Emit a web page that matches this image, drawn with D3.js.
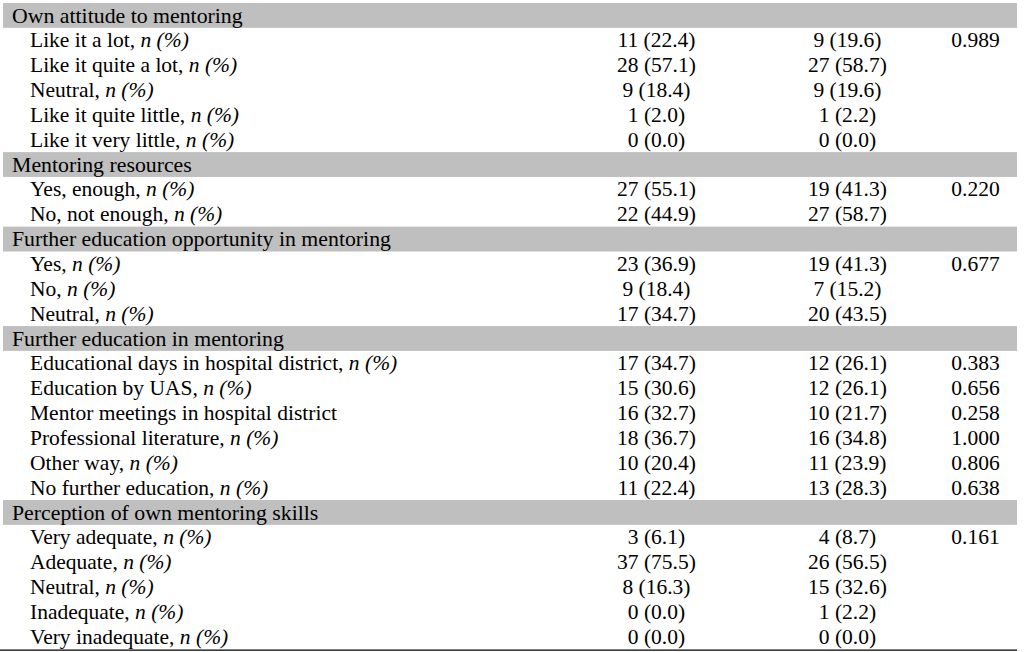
<!DOCTYPE html>
<html>
<head>
<meta charset="utf-8">
<script src="https://cdn.jsdelivr.net/npm/d3@7"></script>
<style>
  html, body { margin: 0; padding: 0; background: #fff; }
  svg { display: block; }
  text { font-family: "Liberation Serif", "Times New Roman", serif; font-size: 21.5px; fill: #000; }
  text.head { font-size: 21.8px; }
</style>
</head>
<body>
<svg></svg>
<script>
const width = 1024;
const height = 652;

// section headers and their rows
const sections = [
  'Own attitude to mentoring',
  'Mentoring resources',
  'Further education opportunity in mentoring',
  'Further education in mentoring',
  'Perception of own mentoring skills'
];
const rowSection = [0,0,0,0,0, 1,1, 2,2,2, 3,3,3,3,3,3, 4,4,4,4,4];
const rowLabels = [
  'Like it a lot', 'Like it quite a lot', 'Neutral', 'Like it quite little', 'Like it very little',
  'Yes, enough', 'No, not enough',
  'Yes', 'No', 'Neutral',
  'Educational days in hospital district', 'Education by UAS', 'Mentor meetings in hospital district',
  'Professional literature', 'Other way', 'No further education',
  'Very adequate', 'Adequate', 'Neutral', 'Inadequate', 'Very inadequate'
];
const rowHasNPct = [1,1,1,1,1, 1,1, 1,1,1, 1,1,0,1,1,1, 1,1,1,1,1];
const group1 = [
  '11 (22.4)', '28 (57.1)', '9 (18.4)', '1 (2.0)', '0 (0.0)',
  '27 (55.1)', '22 (44.9)',
  '23 (36.9)', '9 (18.4)', '17 (34.7)',
  '17 (34.7)', '15 (30.6)', '16 (32.7)', '18 (36.7)', '10 (20.4)', '11 (22.4)',
  '3 (6.1)', '37 (75.5)', '8 (16.3)', '0 (0.0)', '0 (0.0)'
];
const group2 = [
  '9 (19.6)', '27 (58.7)', '9 (19.6)', '1 (2.2)', '0 (0.0)',
  '19 (41.3)', '27 (58.7)',
  '19 (41.3)', '7 (15.2)', '20 (43.5)',
  '12 (26.1)', '12 (26.1)', '10 (21.7)', '16 (34.8)', '11 (23.9)', '13 (28.3)',
  '4 (8.7)', '26 (56.5)', '15 (32.6)', '1 (2.2)', '0 (0.0)'
];
const pValues = [
  '0.989', '', '', '', '',
  '0.220', '',
  '0.677', '', '',
  '0.383', '0.656', '0.258', '1.000', '0.806', '0.638',
  '0.161', '', '', '', ''
];

// build the flat row list: header rows followed by their items
const rows = [];
sections.forEach((s, si) => {
  rows.push({ type: 'header', label: s });
  rowLabels.forEach((l, i) => {
    if (rowSection[i] === si) {
      rows.push({ type: 'item', label: l, npct: rowHasNPct[i], g1: group1[i], g2: group2[i], p: pValues[i] });
    }
  });
});

const rowH = 24.85;
const tableTop = 3;
const y = d3.scaleLinear().domain([0, rows.length]).range([tableTop, tableTop + rows.length * rowH]);

const colX = { header: 12, label: 30, g1: 656.5, g2: 847.5, p: 975.5 };

const svg = d3.select('svg')
    .attr('width', width)
    .attr('height', height);

svg.selectAll('rect.band')
  .data(rows.map((r, i) => ({ r, i })).filter(d => d.r.type === 'header'))
  .enter()
  .append('rect')
    .attr('class', 'band')
    .attr('x', 3)
    .attr('y', d => y(d.i))
    .attr('width', 1014)
    .attr('height', rowH)
    .attr('fill', '#bfbfbf');

const g = svg.selectAll('g.row')
  .data(rows)
  .enter()
  .append('g')
    .attr('class', 'row')
    .attr('transform', (d, i) => `translate(0,${y(i) + 19.5})`);

g.filter(d => d.type === 'header')
  .append('text')
    .attr('class', 'head')
    .attr('x', colX.header)
    .text(d => d.label);

const items = g.filter(d => d.type === 'item');

const lbl = items.append('text').attr('x', colX.label);
lbl.append('tspan').text(d => d.label + (d.npct ? ', ' : ''));
lbl.filter(d => d.npct)
  .append('tspan')
    .attr('font-style', 'italic')
    .text('n (%)');

items.append('text')
    .attr('x', colX.g1)
    .attr('text-anchor', 'middle')
    .text(d => d.g1);

items.append('text')
    .attr('x', colX.g2)
    .attr('text-anchor', 'middle')
    .text(d => d.g2);

items.append('text')
    .attr('x', colX.p)
    .attr('text-anchor', 'middle')
    .text(d => d.p);

svg.append('line')
    .attr('x1', 0)
    .attr('x2', 1017)
    .attr('y1', y(rows.length) + 1)
    .attr('y2', y(rows.length) + 1)
    .attr('stroke', '#000')
    .attr('stroke-width', 1.2);
</script>
</body>
</html>
